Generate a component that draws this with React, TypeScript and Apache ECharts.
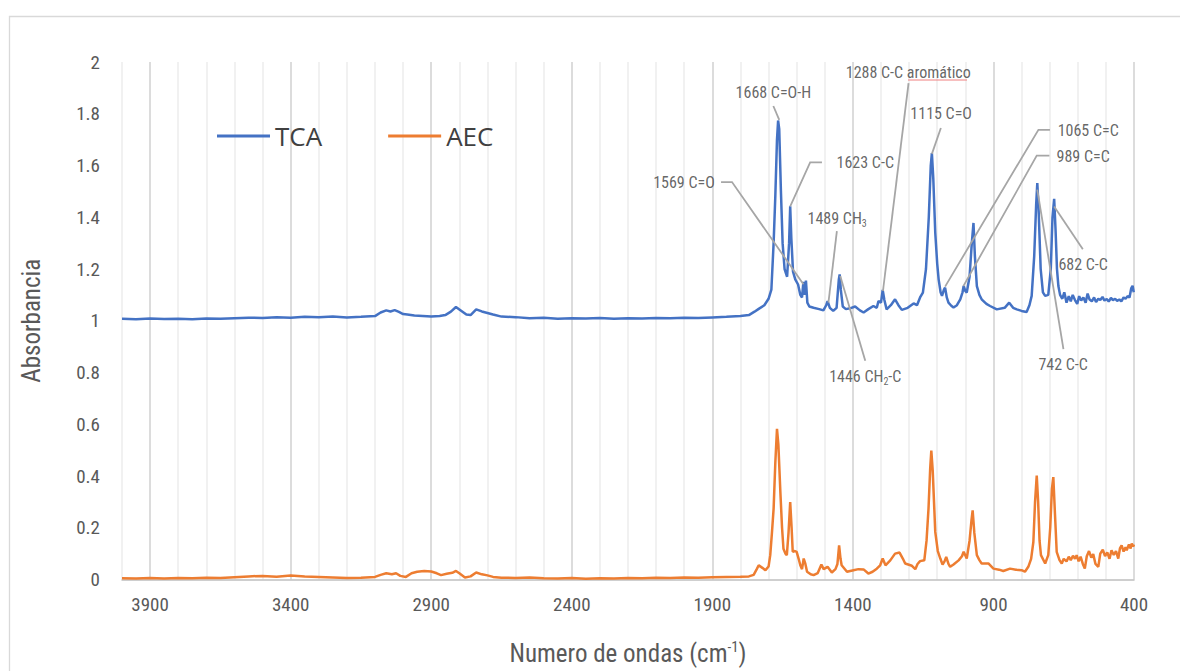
import React, { useEffect, useRef } from "react";
import * as echarts from "echarts";

const seriesNames = ["TCA", "AEC"];
const seriesColors = ["#4472C4", "#ED7D31"];

const tcaSpectrum: number[][] = [
  [4000,1.008],[3950,1.006],[3900,1.009],[3850,1.007],[3800,1.008],[3750,1.006],[3700,1.009],[3650,1.008],[3600,1.010],[3550,1.012],[3500,1.011],[3450,1.014],[3400,1.012],[3350,1.015],[3300,1.014],[3250,1.016],[3200,1.013],[3150,1.015],[3100,1.018],[3080,1.032],[3060,1.040],[3045,1.036],[3030,1.041],[3015,1.034],[3000,1.026],[2985,1.024],[2960,1.020],[2930,1.018],[2900,1.016],[2870,1.018],[2850,1.022],[2830,1.035],[2812,1.053],[2795,1.040],[2775,1.024],[2760,1.022],[2740,1.044],[2720,1.036],[2700,1.030],[2680,1.024],[2650,1.016],[2600,1.014],[2550,1.010],[2500,1.012],[2450,1.008],[2400,1.010],[2350,1.009],[2300,1.011],[2250,1.008],[2200,1.010],[2150,1.009],[2100,1.011],[2050,1.010],[2000,1.012],[1950,1.011],[1900,1.013],[1850,1.015],[1800,1.018],[1770,1.022],[1750,1.035],[1735,1.046],[1715,1.060],[1700,1.085],[1690,1.120],[1682,1.300],[1676,1.480],[1670,1.700],[1666,1.774],[1662,1.740],[1656,1.500],[1650,1.300],[1643,1.200],[1634,1.170],[1627,1.300],[1623,1.442],[1619,1.320],[1613,1.190],[1605,1.160],[1595,1.140],[1587,1.100],[1581,1.090],[1576,1.150],[1572,1.100],[1567,1.155],[1562,1.070],[1555,1.055],[1540,1.050],[1520,1.045],[1505,1.040],[1495,1.060],[1490,1.076],[1482,1.050],[1470,1.038],[1458,1.050],[1450,1.160],[1447,1.179],[1443,1.120],[1436,1.055],[1425,1.045],[1410,1.048],[1392,1.055],[1375,1.040],[1362,1.032],[1345,1.045],[1327,1.057],[1315,1.050],[1309,1.076],[1300,1.070],[1294,1.119],[1288,1.080],[1280,1.044],[1265,1.060],[1250,1.083],[1238,1.060],[1226,1.042],[1205,1.050],[1184,1.067],[1172,1.060],[1161,1.090],[1151,1.109],[1140,1.200],[1130,1.400],[1123,1.600],[1119,1.648],[1114,1.550],[1107,1.340],[1100,1.220],[1095,1.160],[1088,1.110],[1083,1.096],[1076,1.120],[1072,1.128],[1066,1.090],[1060,1.070],[1050,1.058],[1042,1.051],[1030,1.060],[1018,1.083],[1010,1.110],[1006,1.134],[1000,1.115],[995,1.109],[985,1.170],[977,1.300],[971,1.378],[966,1.250],[959,1.134],[950,1.100],[942,1.083],[925,1.065],[912,1.057],[888,1.044],[860,1.050],[844,1.070],[830,1.050],[817,1.044],[800,1.038],[782,1.034],[772,1.060],[764,1.096],[755,1.250],[748,1.450],[744,1.532],[740,1.450],[732,1.200],[724,1.110],[716,1.096],[705,1.100],[696,1.200],[690,1.400],[684,1.471],[679,1.350],[674,1.200],[669,1.134],[663,1.100],[655,1.085],[648,1.110],[640,1.070],[632,1.095],[625,1.075],[618,1.100],[610,1.080],[602,1.065],[595,1.095],[588,1.078],[580,1.090],[572,1.070],[565,1.105],[558,1.082],[550,1.075],[542,1.090],[535,1.072],[527,1.085],[520,1.080],[512,1.092],[505,1.078],[497,1.084],[490,1.074],[482,1.088],[475,1.080],[467,1.085],[460,1.077],[452,1.082],[445,1.075],[437,1.090],[430,1.085],[423,1.095],[416,1.090],[410,1.125],[405,1.135],[401,1.110]
];

const aecSpectrum: number[][] = [
  [4000,0.005],[3950,0.004],[3900,0.006],[3850,0.004],[3800,0.006],[3750,0.005],[3700,0.007],[3650,0.006],[3600,0.009],[3550,0.012],[3500,0.014],[3450,0.011],[3400,0.015],[3350,0.012],[3300,0.010],[3250,0.008],[3200,0.006],[3150,0.007],[3100,0.010],[3080,0.018],[3060,0.024],[3040,0.020],[3025,0.024],[3010,0.014],[2990,0.010],[2970,0.024],[2950,0.030],[2925,0.033],[2900,0.031],[2880,0.024],[2865,0.017],[2845,0.022],[2825,0.026],[2812,0.033],[2800,0.024],[2780,0.008],[2760,0.012],[2740,0.027],[2720,0.020],[2700,0.016],[2680,0.010],[2650,0.007],[2600,0.006],[2550,0.008],[2500,0.005],[2450,0.004],[2400,0.006],[2350,0.003],[2300,0.005],[2250,0.004],[2200,0.006],[2150,0.005],[2100,0.007],[2050,0.006],[2000,0.008],[1950,0.007],[1900,0.009],[1850,0.010],[1800,0.011],[1770,0.012],[1753,0.018],[1742,0.040],[1735,0.055],[1722,0.045],[1711,0.036],[1700,0.050],[1694,0.094],[1688,0.180],[1682,0.274],[1676,0.450],[1670,0.582],[1665,0.520],[1658,0.338],[1652,0.200],[1647,0.119],[1640,0.100],[1635,0.094],[1629,0.180],[1623,0.299],[1618,0.200],[1614,0.107],[1606,0.110],[1600,0.107],[1593,0.080],[1587,0.055],[1581,0.040],[1575,0.081],[1569,0.060],[1563,0.030],[1550,0.020],[1540,0.017],[1525,0.025],[1512,0.058],[1504,0.040],[1490,0.049],[1475,0.027],[1462,0.040],[1455,0.060],[1449,0.132],[1444,0.080],[1440,0.055],[1421,0.030],[1398,0.036],[1380,0.040],[1362,0.039],[1345,0.023],[1330,0.030],[1315,0.042],[1303,0.055],[1294,0.081],[1284,0.055],[1267,0.074],[1250,0.100],[1234,0.104],[1222,0.080],[1214,0.062],[1190,0.053],[1178,0.040],[1170,0.060],[1161,0.071],[1146,0.074],[1138,0.150],[1131,0.274],[1125,0.430],[1121,0.498],[1116,0.420],[1107,0.184],[1098,0.110],[1089,0.081],[1081,0.058],[1074,0.070],[1068,0.087],[1060,0.060],[1054,0.049],[1042,0.058],[1024,0.074],[1012,0.090],[1006,0.107],[995,0.081],[985,0.150],[978,0.230],[974,0.267],[968,0.180],[959,0.094],[950,0.075],[942,0.062],[918,0.062],[900,0.042],[880,0.038],[865,0.033],[841,0.042],[820,0.038],[800,0.036],[788,0.030],[776,0.049],[766,0.080],[758,0.145],[752,0.300],[746,0.402],[741,0.300],[736,0.150],[731,0.094],[716,0.062],[705,0.094],[698,0.200],[692,0.350],[687,0.396],[681,0.250],[675,0.107],[665,0.075],[657,0.062],[650,0.080],[640,0.070],[632,0.088],[625,0.075],[617,0.092],[610,0.080],[604,0.094],[597,0.070],[590,0.088],[582,0.060],[575,0.042],[568,0.090],[560,0.110],[552,0.085],[545,0.098],[537,0.060],[527,0.049],[520,0.100],[511,0.115],[503,0.090],[495,0.105],[487,0.080],[480,0.113],[472,0.095],[464,0.110],[456,0.081],[450,0.120],[444,0.132],[437,0.108],[430,0.125],[426,0.113],[418,0.135],[412,0.120],[408,0.139],[403,0.128],[400,0.135]
];

// annotation texts (rich markup) and their positions [wavenumber, absorbance]
const annotationTexts = [
  "{t|1668 C=O-H}",
  "{t|1623 C-C}",
  "{t|1569 C=O}",
  "{t|1489 CH}{s|3}",
  "{t|1446 CH}{s|2}{t|-C}",
  "{t|1288 C-C aromático}",
  "{t|1115 C=O}",
  "{t|1065 C=C}",
  "{t|989 C=C}",
  "{t|682 C-C}",
  "{t|742 C-C}",
];
const annotationPositions = [
  [1683, 1.881], [1356, 1.611], [2001, 1.534], [1456, 1.395], [1356, 0.786],
  [1203, 1.958], [1086, 1.80], [563, 1.734], [581, 1.634], [581, 1.218], [652, 0.829],
];
const leaderLines = [
  [[1683, 1.830], [1662, 1.776]],
  [[1510, 1.612], [1552, 1.612], [1623, 1.442]],
  [[1869, 1.536], [1830, 1.536], [1576, 1.141]],
  [[1457, 1.346], [1487, 1.070]],
  [[1445, 1.173], [1356, 0.845]],
  [[1202, 1.918], [1293, 1.115]],
  [[1087, 1.745], [1119, 1.645]],
  [[699, 1.738], [740, 1.738], [1072, 1.132]],
  [[701, 1.638], [746, 1.638], [1007, 1.134]],
  [[582, 1.276], [684, 1.442]],
  [[651, 0.890], [744, 1.507]],
];

const xMin = 400;
const xMax = 4000;
const yTicks = [0, 0.2, 0.4, 0.6, 0.8, 1, 1.2, 1.4, 1.6, 1.8, 2];

const NARROW = '"Liberation Sans Narrow", "Arial Narrow", "Roboto Condensed", Roboto, sans-serif';

export default function App() {
  const ref = useRef<HTMLDivElement>(null);
  useEffect(() => {
    if (!ref.current) return;
    const chart = echarts.init(ref.current, null, { renderer: "svg" });
    chart.setOption({
      animation: false,
      backgroundColor: "#ffffff",
      graphic: [
        {
          type: "rect",
          left: 7,
          top: 14,
          shape: { width: 1200, height: 700 },
          style: { fill: "none", stroke: "#d9d9d9", lineWidth: 1.3 },
          z: -10,
          silent: true,
        },
        {
          type: "line",
          shape: { x1: 908, y1: 80, x2: 967, y2: 80 },
          style: { stroke: "#f08080", lineWidth: 1 },
          z: 10,
          silent: true,
        },
      ],
      grid: { left: 122, right: 46, top: 62, height: 519, containLabel: false },
      legend: {
        left: 212,
        top: 118,
        data: seriesNames,
        icon: "rect",
        itemWidth: 53,
        itemHeight: 3,
        itemGap: 66,
        textStyle: { fontSize: 26, color: "#404040", fontFamily: '"Open Sans", sans-serif' },
      },
      xAxis: {
        type: "value",
        inverse: true,
        min: xMin,
        max: xMax,
        interval: 100,
        name: "{a|Numero de ondas (cm}{sup|-1}{a|)}",
        nameLocation: "middle",
        nameGap: 60,
        nameTextStyle: {
          rich: {
            a: { fontSize: 25, color: "#595959", fontFamily: NARROW, lineHeight: 28 },
            sup: { fontSize: 15, color: "#595959", fontFamily: NARROW, verticalAlign: "top", lineHeight: 28 },
          },
        },
        axisLine: { show: true, lineStyle: { color: "#bfbfbf", width: 1.5 } },
        axisTick: { show: false },
        axisLabel: {
          interval: 0,
          margin: 15,
          fontSize: 19,
          color: "#595959",
          fontFamily: NARROW,
          formatter: (v: number) => ((v - xMin) % 500 === 0 ? String(v) : ""),
        },
        splitLine: {
          show: true,
          lineStyle: { color: ["#d0d0d0", "#ececec", "#ececec", "#ececec", "#ececec"], width: 1.5 },
        },
      },
      yAxis: {
        type: "value",
        min: 0,
        max: 2,
        interval: 0.2,
        name: "Absorbancia",
        nameLocation: "middle",
        nameGap: 78,
        nameTextStyle: { fontSize: 25, color: "#595959", fontFamily: NARROW },
        axisLine: { show: false },
        axisTick: { show: false },
        splitLine: { show: false },
        axisLabel: {
          margin: 22,
          fontSize: 19,
          color: "#595959",
          fontFamily: NARROW,
          formatter: (v: number) => {
            const t = yTicks.find((k) => Math.abs(k - v) < 1e-6);
            return t === undefined ? "" : String(t);
          },
        },
      },
      series: [
        {
          name: seriesNames[0],
          type: "line",
          data: tcaSpectrum,
          showSymbol: false,
          symbol: "none",
          lineStyle: { color: seriesColors[0], width: 2.5 },
          itemStyle: { color: seriesColors[0] },
          z: 3,
        },
        {
          name: seriesNames[1],
          type: "line",
          data: aecSpectrum,
          showSymbol: false,
          symbol: "none",
          lineStyle: { color: seriesColors[1], width: 2.5 },
          itemStyle: { color: seriesColors[1] },
          z: 3,
        },
        {
          type: "lines",
          coordinateSystem: "cartesian2d",
          polyline: true,
          silent: true,
          lineStyle: { color: "#a6a6a6", width: 1.8, opacity: 1 },
          data: leaderLines.map((c) => ({ coords: c })),
          z: 4,
        },
        {
          type: "scatter",
          symbolSize: 1,
          itemStyle: { color: "rgba(0,0,0,0)" },
          silent: true,
          z: 5,
          data: annotationPositions.map((p, i) => ({
            value: p,
            label: {
              show: true,
              position: "inside",
              formatter: annotationTexts[i],
              rich: {
                t: { fontSize: 16, color: "#404040", fontFamily: NARROW, lineHeight: 20 },
                s: { fontSize: 10, color: "#404040", fontFamily: NARROW, lineHeight: 20, verticalAlign: "bottom" },
              },
            },
          })),
        },
      ],
    });
    return () => chart.dispose();
  }, []);
  return (
    <div
      ref={ref}
      style={{ position: "absolute", left: 0, top: 0, width: 1180, height: 671, background: "#fff" }}
    />
  );
}
